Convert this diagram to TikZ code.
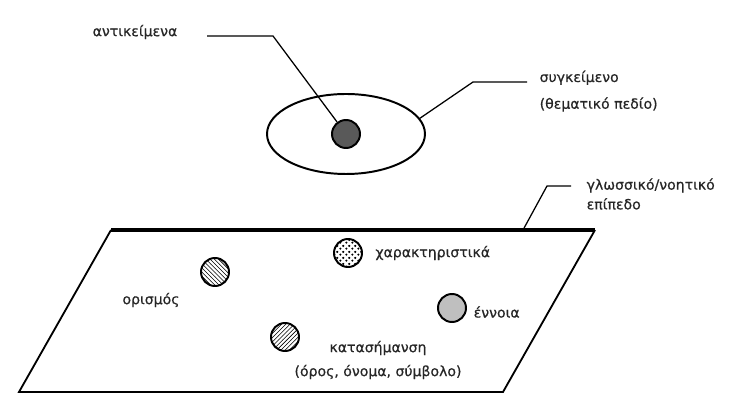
\documentclass[tikz,border=0pt]{standalone}
\usepackage{fontspec}
\setmainfont{DejaVu Sans}[FakeBold=0.6]
\usetikzlibrary{shapes.geometric,patterns,patterns.meta,positioning}
\tikzdeclarepattern{
  name=bigdots,
  type=uncolored,
  bounding box={(0pt,0pt) and (4.4pt,4.4pt)},
  tile size={(4.4pt,4.4pt)},
  code={\fill (1.1pt,1.1pt) circle (0.95pt); \fill (3.3pt,3.3pt) circle (0.95pt);}
}
\tikzset{
  lbl/.style={font=\fontsize{10}{12}\selectfont,text=black!85,inner sep=1pt},
  ball/.style={circle,draw,line width=1.4pt,minimum size=0.7cm,inner sep=0pt},
  lead/.style={line width=0.9pt},
}

\begin{document}
\begin{tikzpicture}
\useasboundingbox (0,0) rectangle (18.7,10.4);
\node[ellipse,draw,line width=1.4pt,minimum width=3.95cm,minimum height=2cm](ctx)at(8.65,7.05){};
\node[ball,fill=black!65](obj)at(8.65,7.05){};
\node[lbl](objtxt)at(3.375,9.6){αντικείμενα};
\coordinate(objend)at(5.175,9.5);
\coordinate(objbend)at(6.825,9.5);
\draw[lead](objend)--(objbend)--(obj);
\node[lbl,align=left,anchor=west](ctxtxt)at(13.45,8.12){συγκείμενο\\[7pt](θεματικό πεδίο)};
\coordinate(ctxbend)at(11.825,8.35);
\coordinate(ctxend)at(13.175,8.35);
\draw[lead](ctx.12)--(ctxbend)--(ctxend);
\coordinate(p1)at(0.475,0.6);
\coordinate(p2)at(12.575,0.6);
\coordinate(p3)at(14.875,4.65);
\coordinate(p4)at(2.775,4.65);
\draw[line width=1.3pt](p4)--(p1)--(p2)--(p3);
\draw[line width=2.2pt](p4)--(p3);
\coordinate(planeat)at(13.075,4.65);
\coordinate(planebend)at(13.675,5.75);
\coordinate(planeend)at(14.275,5.75);
\draw[lead](planeat)--(planebend)--(planeend);
\node[lbl,align=left,anchor=west](planetxt)at(14.625,5.55){γλωσσικό/νοητικό\\[2pt]επίπεδο};
\node[ball,pattern=north west lines](defn)at(5.375,3.6){};
\node[lbl](defntxt)at(3.775,2.9){ορισμός};
\node[ball,pattern=bigdots](feat)at(8.7,4.075){};
\node[lbl,right=0.27cm of feat](feattxt){χαρακτηριστικά};
\node[ball,fill=black!25](concept)at(11.3,2.7){};
\node[lbl,anchor=west](concepttxt)at(11.8,2.6){έννοια};
\node[ball,pattern=north east lines](sign)at(7.125,1.975){};
\node[lbl,align=center](signtxt)at(9.45,1.4){κατασήμανση\\[5pt](όρος, όνομα, σύμβολο)};
\end{tikzpicture}
\end{document}
